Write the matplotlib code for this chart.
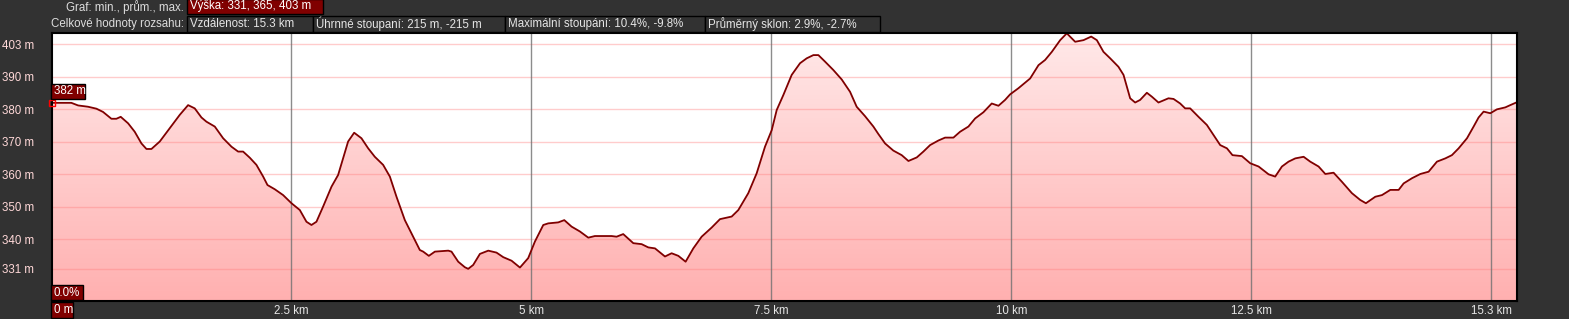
#!/usr/bin/env python3
"""Elevation profile chart (dark route-planner style)."""

import matplotlib
matplotlib.use('Agg')
import matplotlib.pyplot as plt
from matplotlib.patches import Rectangle
import numpy as np

# distance along the route (km) and elevation (m)
dist_km = [
    0.000, 0.207, 0.277, 0.381, 0.468, 0.537, 0.624, 0.676, 0.721, 0.798,
    0.867, 0.937, 0.989, 1.041, 1.128, 1.232, 1.336, 1.423, 1.492, 1.562,
    1.614, 1.701, 1.788, 1.875, 1.944, 1.996, 2.066, 2.135, 2.205, 2.250,
    2.326, 2.413, 2.500, 2.587, 2.656, 2.708, 2.760, 2.830, 2.917, 2.986,
    3.038, 3.090, 3.153, 3.229, 3.299, 3.368, 3.455, 3.525, 3.594, 3.681,
    3.751, 3.837, 3.872, 3.931, 3.994, 4.133, 4.167, 4.237, 4.306, 4.341,
    4.393, 4.463, 4.550, 4.636, 4.706, 4.793, 4.880, 4.966, 5.036, 5.123,
    5.175, 5.279, 5.342, 5.418, 5.505, 5.592, 5.661, 5.748, 5.835, 5.887,
    5.956, 6.061, 6.148, 6.217, 6.287, 6.391, 6.460, 6.530, 6.606, 6.686,
    6.773, 6.877, 6.964, 7.086, 7.155, 7.259, 7.346, 7.433, 7.503, 7.555,
    7.624, 7.711, 7.798, 7.867, 7.937, 7.989, 8.058, 8.145, 8.232, 8.319,
    8.388, 8.475, 8.562, 8.614, 8.684, 8.770, 8.857, 8.927, 9.014, 9.083,
    9.153, 9.239, 9.309, 9.396, 9.465, 9.552, 9.622, 9.708, 9.795, 9.865,
    9.934, 9.986, 10.073, 10.195, 10.282, 10.351, 10.421, 10.508, 10.577, 10.664,
    10.751, 10.831, 10.890, 10.959, 11.029, 11.115, 11.168, 11.237, 11.289, 11.341,
    11.411, 11.463, 11.532, 11.636, 11.689, 11.758, 11.810, 11.862, 11.949, 12.036,
    12.105, 12.175, 12.245, 12.303, 12.401, 12.488, 12.575, 12.679, 12.748, 12.818,
    12.887, 12.957, 13.044, 13.113, 13.200, 13.270, 13.356, 13.443, 13.547, 13.634,
    13.693, 13.791, 13.860, 13.947, 14.034, 14.086, 14.173, 14.260, 14.346, 14.433,
    14.520, 14.589, 14.659, 14.746, 14.815, 14.867, 14.919, 14.989, 15.058, 15.145,
    15.197, 15.267,
]
elev_m = [
    382.0, 382.0, 381.2, 380.8, 380.2, 379.2, 377.1, 377.1, 377.7, 375.7,
    373.1, 369.5, 367.8, 367.8, 370.1, 374.2, 378.3, 381.3, 380.3, 377.5,
    376.2, 374.7, 371.1, 368.5, 367.0, 367.0, 365.1, 362.9, 359.3, 356.7,
    355.4, 353.6, 351.1, 349.0, 345.4, 344.4, 345.4, 350.1, 356.2, 359.8,
    364.9, 370.1, 372.8, 371.1, 368.0, 365.4, 362.9, 359.3, 353.1, 345.9,
    341.8, 336.7, 336.2, 334.9, 336.2, 336.5, 336.2, 333.1, 331.4, 330.9,
    332.1, 335.5, 336.5, 335.9, 334.5, 333.4, 331.3, 334.2, 339.3, 344.4,
    344.9, 345.2, 345.9, 343.9, 342.4, 340.5, 341.0, 341.0, 341.0, 340.8,
    341.6, 338.8, 338.5, 337.5, 337.2, 334.7, 335.7, 334.9, 333.1, 337.2,
    340.8, 343.6, 346.2, 347.0, 349.0, 354.2, 360.3, 368.5, 373.6, 379.8,
    384.4, 390.6, 394.2, 395.7, 396.7, 396.7, 394.7, 392.1, 389.2, 385.4,
    380.8, 377.9, 374.7, 372.4, 369.5, 367.3, 365.9, 364.1, 365.2, 367.0,
    369.0, 370.4, 371.3, 371.3, 373.1, 374.7, 377.2, 379.1, 381.8, 381.1,
    382.9, 384.6, 386.5, 389.5, 393.6, 395.2, 397.7, 401.3, 403.4, 400.8,
    401.3, 402.4, 401.3, 397.7, 395.7, 393.1, 390.6, 383.4, 382.1, 382.9,
    385.1, 383.9, 382.1, 383.4, 383.2, 381.8, 380.3, 380.3, 377.7, 375.2,
    372.1, 369.0, 368.0, 365.9, 365.6, 363.4, 362.4, 360.0, 359.3, 362.4,
    363.9, 364.9, 365.4, 363.9, 362.4, 360.1, 360.5, 357.7, 354.2, 352.1,
    351.1, 353.1, 353.6, 355.2, 355.2, 357.2, 358.8, 360.1, 360.8, 363.9,
    364.9, 365.9, 368.0, 371.1, 374.7, 377.5, 379.3, 378.8, 380.0, 380.6,
    381.3, 382.2,
]

y_ticks = [400, 390, 380, 370, 360, 350, 340, 331]
y_labels = ['403 m', '390 m', '380 m', '370 m', '360 m', '350 m', '340 m', '331 m']
x_ticks = [2.5, 5, 7.5, 10, 12.5, 15]
x_labels = ['2.5 km', '5 km', '7.5 km', '10 km', '12.5 km', '15.3 km']

header_row1 = 'Výška: 331, 365, 403 m'
header_row2 = ['Vzdálenost: 15.3 km', 'Úhrnné stoupaní: 215 m, -215 m',
               'Maximální stoupání: 10.4%, -9.8%', 'Průměrný sklon: 2.9%, -2.7%']

W, H = 1569, 319
BG = '#323232'
DARKRED = '#800000'
FS = 8.3

plt.rcParams['font.family'] = ['Liberation Sans', 'DejaVu Sans']


def px_box(fig, x0, y0, x1, y1, face, text, tcolor='white', size=FS):
    """Box + text in pixel coords measured from the top-left corner."""
    rect = Rectangle((x0 / W, 1 - y1 / H), (x1 - x0) / W, (y1 - y0) / H,
                     transform=fig.transFigure, facecolor=face,
                     edgecolor='black', linewidth=1.0, zorder=5)
    fig.add_artist(rect)
    fig.text((x0 + 3) / W, 1 - ((y0 + y1) / 2) / H, text, color=tcolor,
             fontsize=size, ha='left', va='center', zorder=6)


def main():
    fig = plt.figure(figsize=(W / 100, H / 100), dpi=100, facecolor=BG)
    ax = fig.add_axes([51.5 / W, 18 / H, (1517 - 51.5) / W, 268 / H])

    xmax = dist_km[-1]
    ymin, ymax = 321.0, 403.5
    ax.set_xlim(0, xmax)
    ax.set_ylim(ymin, ymax)
    ax.set_facecolor('white')

    # gradient fill under the profile
    poly = ax.fill_between(dist_km, elev_m, ymin, color='none', linewidth=0)
    grad = np.linspace(0, 1, 256).reshape(-1, 1)
    cmap = matplotlib.colors.LinearSegmentedColormap.from_list(
        'pinkgrad', ['#ffb0b0', '#ffe9e9'])
    img = ax.imshow(grad, cmap=cmap, origin='lower', aspect='auto',
                    extent=[0, xmax, ymin, ymax], zorder=1)
    img.set_clip_path(poly.get_paths()[0], transform=ax.transData)

    # grid lines
    for y in y_ticks:
        ax.axhline(y, color='#ff8080', alpha=0.4, linewidth=1.0, zorder=2)
    for x in x_ticks:
        ax.axvline(x, color='#707070', alpha=0.8, linewidth=1.0, zorder=2)

    ax.plot(dist_km, elev_m, color=DARKRED, linewidth=1.3, zorder=3)

    # start-point marker
    ax.plot([dist_km[0]], [elev_m[0]], marker='s', markersize=5,
            markerfacecolor='none', markeredgecolor='red',
            markeredgewidth=1.0, clip_on=False, zorder=6)

    ax.set_yticks(y_ticks)
    ax.set_yticklabels(y_labels)
    ax.set_xticks(x_ticks)
    ax.set_xticklabels(x_labels)
    ax.tick_params(axis='y', length=0, pad=35.5, labelsize=FS, labelcolor='#ffd8d8')
    ax.tick_params(axis='x', length=0, pad=3, labelsize=FS, labelcolor='#e6e6e6')
    for lab in ax.get_yticklabels():
        lab.set_horizontalalignment('left')
    for sp in ax.spines.values():
        sp.set_color('black')
        sp.set_linewidth(1.5)
        sp.set_zorder(4)

    # header rows
    fig.text(184 / W, 1 - 7 / H, 'Graf: min., prům., max.', color='#dddddd',
             fontsize=FS, ha='right', va='center')
    px_box(fig, 187, -1, 323, 14, DARKRED, header_row1)
    fig.text(184 / W, 1 - 24 / H, 'Celkové hodnoty rozsahu:', color='#dddddd',
             fontsize=FS, ha='right', va='center')
    edges = [187, 313, 505, 705, 880]
    for i, txt in enumerate(header_row2):
        px_box(fig, edges[i], 16, edges[i + 1], 32, BG, txt, tcolor='#e6e6e6')

    # cursor labels
    px_box(fig, 51, 84, 85, 99, DARKRED, '382 m')
    px_box(fig, 51, 285, 83, 300, DARKRED, '0.0%')
    px_box(fig, 51, 302, 73, 318, DARKRED, '0 m')

    plt.savefig('out.png', dpi=100, facecolor=BG)
    plt.close()


if __name__ == "__main__":
    main()
